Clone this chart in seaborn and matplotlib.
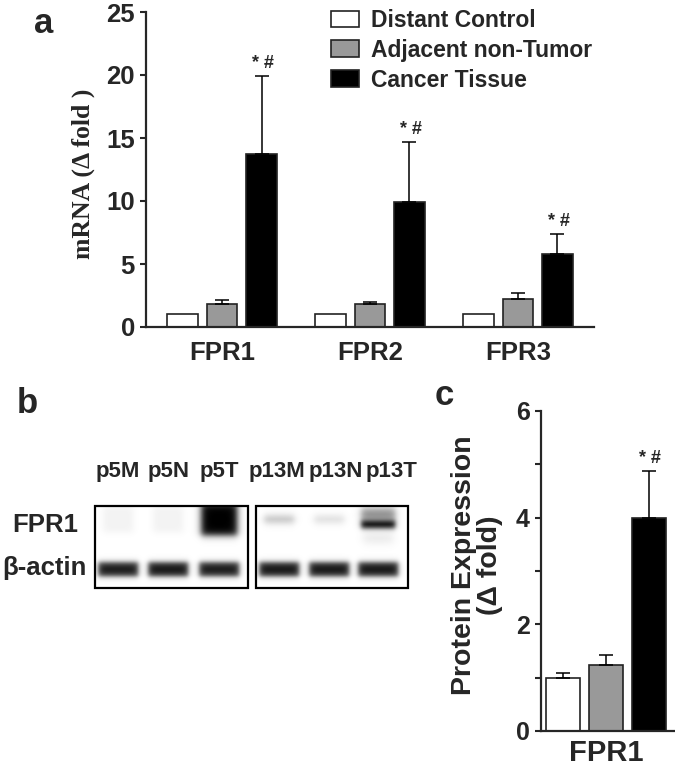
import numpy as np
import pandas as pd
import matplotlib
matplotlib.use('Agg')
import matplotlib.pyplot as plt
import seaborn as sns
from matplotlib.patches import Patch, Rectangle

# ---- data ----
genes = ['FPR1', 'FPR2', 'FPR3']
groups = ['Distant Control', 'Adjacent non-Tumor', 'Cancer Tissue']
bar_colors = ['white', '#999999', 'black']

mrna_control = [1.0, 1.0, 1.0]
mrna_adjacent = [1.85, 1.8, 2.2]
mrna_cancer = [13.7, 9.9, 5.8]
mrna_err_control = [0.0, 0.0, 0.0]
mrna_err_adjacent = [0.32, 0.22, 0.47]
mrna_err_cancer = [6.2, 4.8, 1.6]

protein_mean = [1.0, 1.23, 4.0]
protein_err = [0.08, 0.2, 0.88]

lanes = ['p5M', 'p5N', 'p5T', 'p13M', 'p13N', 'p13T']
fpr1_signal = [0.05, 0.05, 1.0, 0.22, 0.12, 0.95]
actin_signal = [0.8, 0.82, 0.8, 0.82, 0.82, 0.82]

sns.set_style('ticks')
plt.rcParams['font.family'] = ['Liberation Sans', 'DejaVu Sans']
plt.rcParams['font.weight'] = 'bold'

W, H = 675, 770
fig = plt.figure(figsize=(6.75, 7.7), dpi=100)


def px_axes(x0, y0, x1, y1):
    # pixel box (top-left origin) -> figure axes
    return fig.add_axes([x0 / W, 1 - y1 / H, (x1 - x0) / W, (y1 - y0) / H])


def add_errors(ax, errs_by_group):
    for cont, errs in zip(ax.containers, errs_by_group):
        for bar, e in zip(cont, errs):
            if e <= 0:
                continue
            xc = bar.get_x() + bar.get_width() / 2
            top = bar.get_height()
            ax.errorbar(xc, top, yerr=[[0], [e]], fmt='none', ecolor='black',
                        elinewidth=1.1, capsize=5, capthick=1.1, zorder=1)


def style_axis(ax):
    sns.despine(ax=ax)
    for s in ['left', 'bottom']:
        ax.spines[s].set_linewidth(1.6)
    ax.tick_params(axis='y', direction='out', length=4, width=1.5, pad=4)
    ax.tick_params(axis='x', length=0)


# ---- panel a ----
df_a = pd.DataFrame({
    'gene': genes * 3,
    'group': np.repeat(groups, 3),
    'value': mrna_control + mrna_adjacent + mrna_cancer,
})
ax_a = px_axes(146, 12, 594, 327)
sns.barplot(data=df_a, x='gene', y='value', hue='group', hue_order=groups,
            palette=bar_colors, saturation=1, width=0.8, gap=0.23,
            edgecolor='#222222', linewidth=1.2, errorbar=None, legend=False,
            ax=ax_a)
add_errors(ax_a, [mrna_err_control, mrna_err_adjacent, mrna_err_cancer])
for bar, e in zip(ax_a.containers[2], mrna_err_cancer):
    ax_a.annotate('* #', (bar.get_x() + bar.get_width() / 2, bar.get_height() + e),
                  xytext=(1, 3), textcoords='offset points', ha='center',
                  va='bottom', fontsize=13, fontweight='bold')
ax_a.set_xlim(-0.514, 2.514)
ax_a.set_ylim(0, 25)
ax_a.set_yticks([0, 5, 10, 15, 20, 25])
style_axis(ax_a)
ax_a.tick_params(axis='y', labelsize=18.5)
ax_a.tick_params(axis='x', labelsize=18.5, pad=10)
ax_a.set_xlabel('')
ax_a.set_ylabel('mRNA (\u0394 fold )', family='Liberation Serif', fontsize=18.5,
                fontweight='bold', va='center')
ax_a.yaxis.set_label_coords(-0.14, 0.487)

handles = [Patch(facecolor=c, edgecolor='#222222', linewidth=1.2, label=g)
           for c, g in zip(bar_colors, groups)]
fig.legend(handles=handles, loc='upper left', bbox_to_anchor=(331 / W, 1 - 9 / H),
           frameon=False, prop={'weight': 'bold', 'size': 16.5},
           handlelength=1.2, handleheight=0.75, handletextpad=0.55,
           labelspacing=0.3, borderpad=0, borderaxespad=0)

# ---- panel b (blot) ----
ax_b = px_axes(0, 380, 420, 620)


def soft(u, c, w, s):
    return 1 / (1 + np.exp((np.abs(u - c) - w / 2) / s))


boxes = [(95, 248, 506, 588, [118, 168, 219]), (256, 408, 506, 588, [279, 329, 378])]
for b, (x0, x1, y0, y1, centers) in enumerate(boxes):
    xs = np.arange(x0, x1, 0.5)
    ys = np.arange(y0, y1, 0.5)
    XX, YY = np.meshgrid(xs, ys)
    clear = np.ones_like(XX)
    for k, cx in enumerate(centers):
        i = b * 3 + k
        f = fpr1_signal[i]
        if f > 0.9 and b == 0:
            parts = [(cx, 519, 36, 32, f, 2.0)]
        elif f > 0.9:
            parts = [(cx, 524, 34, 8, f, 1.5), (cx, 514, 34, 12, 0.45 * f, 2.0),
                     (cx, 538, 30, 10, 0.08, 2.5)]
        else:
            parts = [(cx, 519, 30, 8 if f > 0.1 else 26, f, 2.0)]
        parts.append((cx, 569, 40, 14, actin_signal[i], 1.5))
        parts.append((cx, 569, 32, 6, 0.6 * actin_signal[i], 1.5))
        for pcx, pcy, pw, ph, st, s in parts:
            clear *= 1 - st * soft(XX, pcx, pw, s) * soft(YY, pcy, ph, s)
    ax_b.imshow(clear, cmap='gray', vmin=0, vmax=1, extent=(x0, x1, y1, y0),
                aspect='auto', interpolation='bilinear')
    ax_b.add_patch(Rectangle((x0, y0), x1 - x0, y1 - y0, fill=False,
                             lw=1.6, ec='black'))

label_x = [118, 169, 219, 277, 336, 392]
for name, lx in zip(lanes, label_x):
    ax_b.text(lx, 472, name, ha='center', va='center', fontsize=16, fontweight='bold')
ax_b.text(45, 525, 'FPR1', ha='center', va='center', fontsize=18.5, fontweight='bold')
ax_b.text(44, 568, '\u03b2-actin', ha='center', va='center', fontsize=18.5, fontweight='bold')
ax_b.set_xlim(0, 420)
ax_b.set_ylim(620, 380)
ax_b.axis('off')

# ---- panel c ----
df_c = pd.DataFrame({'gene': ['FPR1'] * 3, 'group': groups, 'value': protein_mean})
ax_c = px_axes(541, 411, 675, 731)
sns.barplot(data=df_c, x='gene', y='value', hue='group', hue_order=groups,
            palette=bar_colors, saturation=1, width=0.8, gap=0.23,
            edgecolor='#222222', linewidth=1.2, errorbar=None, legend=False,
            ax=ax_c)
add_errors(ax_c, [[e] for e in protein_err])
bar = ax_c.containers[2][0]
ax_c.annotate('* #', (bar.get_x() + bar.get_width() / 2, bar.get_height() + protein_err[2]),
              xytext=(1, 3), textcoords='offset points', ha='center', va='bottom',
              fontsize=13, fontweight='bold')
ax_c.set_xlim(-0.403, 0.428)
ax_c.set_ylim(0, 6)
ax_c.set_yticks([0, 2, 4, 6])
ax_c.set_yticks([1, 3, 5], minor=True)
style_axis(ax_c)
ax_c.tick_params(axis='y', which='minor', direction='out', length=4, width=1.5)
ax_c.tick_params(axis='y', labelsize=18)
ax_c.tick_params(axis='x', labelsize=21, pad=6)
ax_c.set_xlabel('')
ax_c.set_ylabel('Protein Expression\n(\u0394 fold)', fontsize=20.5, fontweight='bold',
                linespacing=1.0, va='center')
ax_c.yaxis.set_label_coords(-0.481, 0.519)

# panel letters
for letter, (lx, ly) in zip('abc', [(44, 33), (27, 413), (444, 405)]):
    fig.text(lx / W, 1 - ly / H, letter, ha='center', va='baseline',
             fontsize=25, fontweight='bold')

fig.savefig('out.png', dpi=100)
